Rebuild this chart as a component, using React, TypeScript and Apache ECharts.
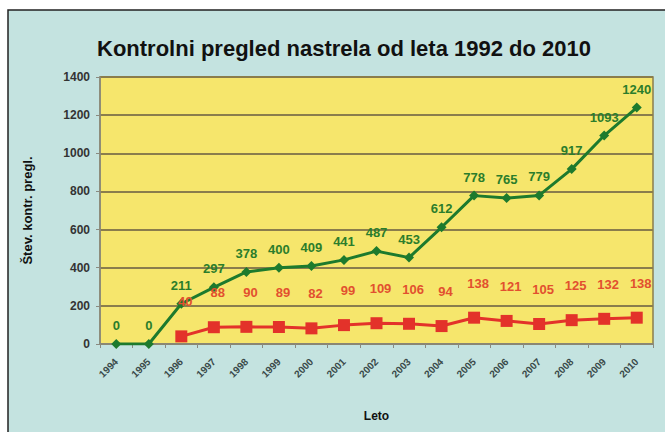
import React, { useEffect, useRef } from "react";
import * as echarts from "echarts";

const years = ["1994","1995","1996","1997","1998","1999","2000","2001","2002","2003","2004","2005","2006","2007","2008","2009","2010"];
const greenValues = [0,0,211,297,378,400,409,441,487,453,612,778,765,779,917,1093,1240];
const redValues: (number | null)[] = [null,null,40,88,90,89,82,99,109,106,94,138,121,105,125,132,138];

const FONT = "Arial";

export default function App() {
  const ref = useRef<HTMLDivElement>(null);
  useEffect(() => {
    if (!ref.current) return;
    const chart = echarts.init(ref.current, null, { renderer: "svg" });
    chart.setOption({
      animation: false,
      backgroundColor: "#ffffff",
      graphic: [
        {
          type: "rect",
          z: -10,
          shape: { x: 8, y: 10, width: 670, height: 440 },
          style: { fill: "#c4e3e0", stroke: "#222", lineWidth: 1.5 },
        },
      ],
      title: {
        text: "Kontrolni pregled nastrela od leta 1992 do 2010",
        left: 339,
        top: 32,
        textAlign: "center",
        textStyle: { fontFamily: FONT, fontWeight: "bold", fontSize: 22, color: "#111" },
      },
      grid: { left: 100, top: 77, right: 12, bottom: 88, show: true, backgroundColor: "#f6e66c", borderColor: "#8a7d4c", borderWidth: 1.5 },
      xAxis: {
        type: "category",
        data: years,
        boundaryGap: true,
        name: "Leto",
        nameLocation: "middle",
        nameGap: 66,
        nameTextStyle: { fontFamily: FONT, fontWeight: "bold", fontSize: 12, color: "#111" },
        axisLine: { lineStyle: { color: "#8a8a80", width: 1.5 } },
        axisTick: { show: true, alignWithLabel: false, length: 4, lineStyle: { color: "#8a8a80" } },
        axisLabel: { rotate: 45, fontSize: 10, fontWeight: "bold", fontFamily: FONT, color: "#3a4a4a", margin: 16, interval: 0 },
      },
      yAxis: {
        type: "value",
        min: 0,
        max: 1400,
        interval: 200,
        name: "Štev. kontr. pregl.",
        nameLocation: "middle",
        nameGap: 66,
        nameTextStyle: { fontFamily: FONT, fontWeight: "bold", fontSize: 13, color: "#111" },
        axisLine: { show: true, lineStyle: { color: "#8a8a80", width: 1.5 } },
        axisTick: { show: true, length: 4, lineStyle: { color: "#8a8a80" } },
        axisLabel: { fontSize: 12, fontWeight: "bold", fontFamily: FONT, color: "#333", margin: 10, formatter: (v: number) => String(v) },
        splitLine: { show: true, lineStyle: { color: "#8a7d4c", width: 2 } },
      },
      series: [
        {
          name: "green",
          type: "line",
          data: greenValues,
          symbol: "diamond",
          symbolSize: 10,
          lineStyle: { color: "#1d7a2d", width: 3 },
          itemStyle: { color: "#1d7a2d" },
          label: { show: true, position: "top", distance: 7, fontFamily: FONT, fontWeight: "bold", fontSize: 13, color: "#2b7d2b" },
          z: 3,
        },
        {
          name: "red",
          type: "line",
          data: redValues,
          symbol: "rect",
          symbolSize: 12,
          lineStyle: { color: "#e3322a", width: 3 },
          itemStyle: { color: "#e3322a" },
          label: { show: true, position: "top", distance: 22, offset: [4, 0], fontFamily: FONT, fontWeight: "bold", fontSize: 13, color: "#e2502f" },
          z: 4,
        },
      ],
    });
    return () => chart.dispose();
  }, []);
  return <div ref={ref} style={{ position: "fixed", left: 0, top: 0, width: 665, height: 432 }} />;
}
